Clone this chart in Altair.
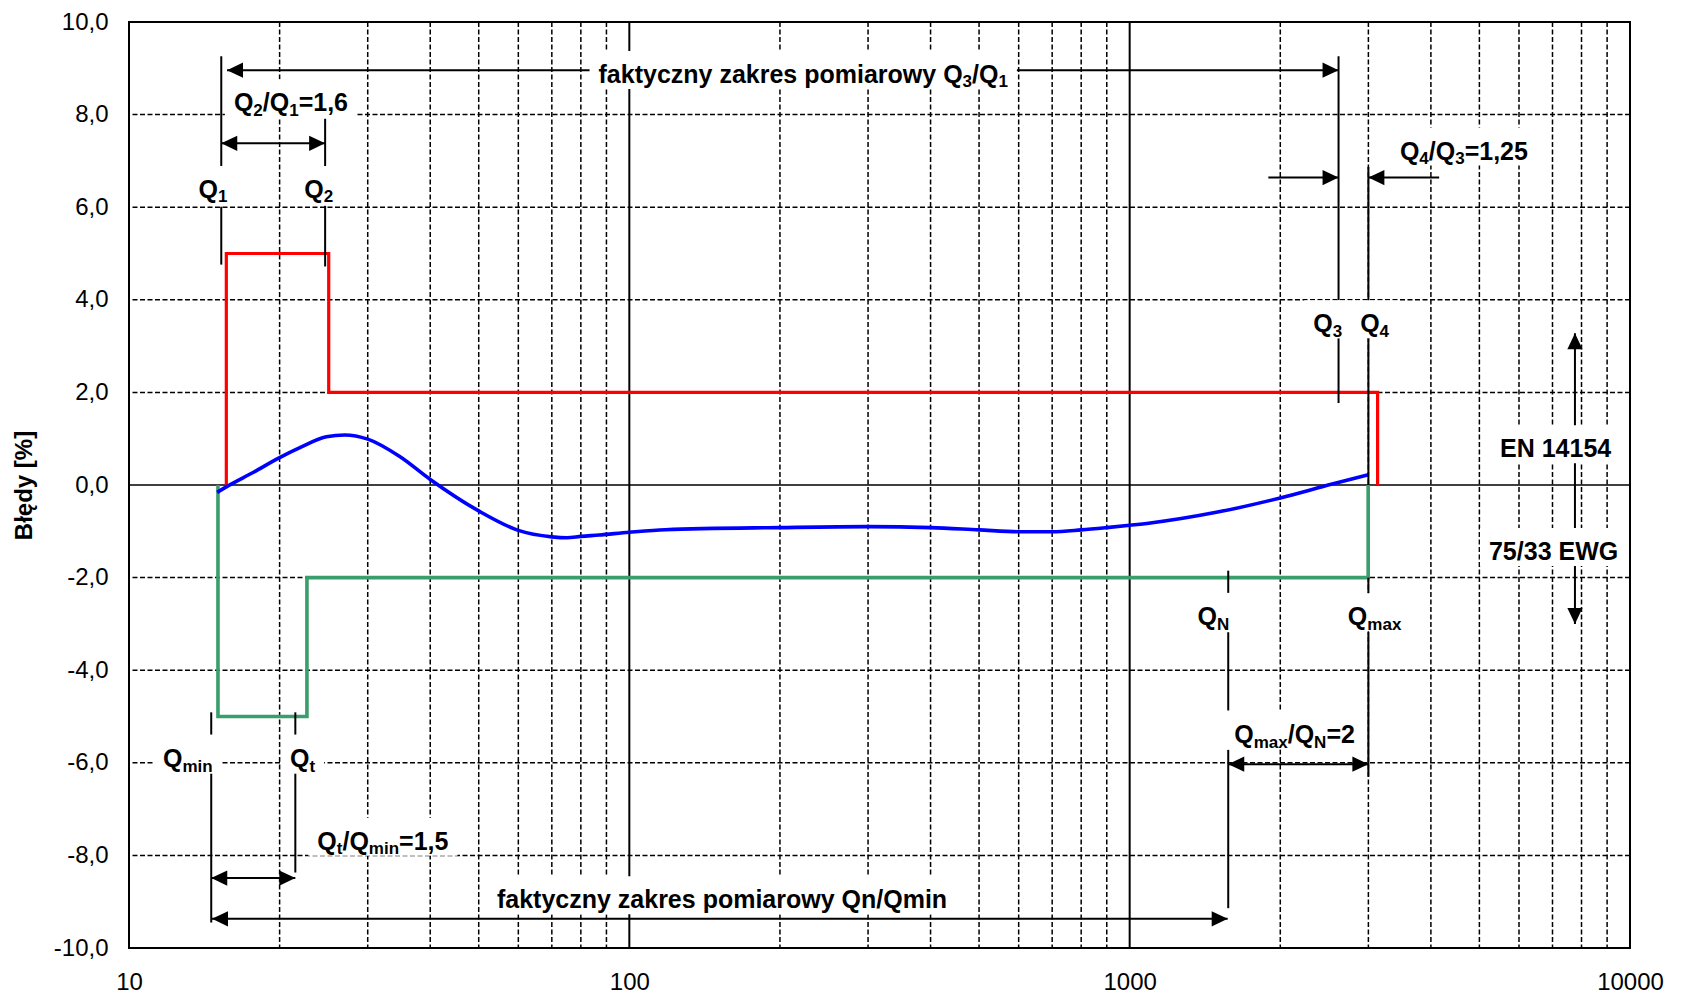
import re
import pandas as pd
import altair as alt

# ---------------- data ----------------
# measured error curve (blue)
curve_q = [15.0, 15.65, 17.7, 20, 21.9, 24.8, 27, 30, 34.7, 40, 50, 60, 70, 75, 80, 87,
           100, 118, 200, 300, 400, 500, 600, 700, 800, 900, 1000, 1100, 1490, 2000, 2540, 3000]
curve_err = [-0.16, -0.04, 0.27, 0.59, 0.80, 1.04, 1.08, 0.99, 0.62, 0.12, -0.56, -0.98, -1.12, -1.14, -1.11, -1.08,
             -1.02, -0.965, -0.92, -0.90, -0.92, -0.97, -1.01, -1.01, -0.97, -0.92, -0.87, -0.82, -0.59, -0.28, 0.02, 0.22]

# EN 14154 limit (red)
en_q = [15.65, 15.65, 25.07, 25.07, 3130, 3130]
en_err = [0, 5, 5, 2, 2, 0]

# 75/33 EWG limit (green)
ewg_q = [15.06, 15.06, 22.68, 22.68, 2997, 2997]
ewg_err = [0, -5, -5, -2, -2, 0]

# grid
grid_minor_q = [20, 30, 40, 50, 60, 70, 80, 90, 200, 300, 400, 500, 600, 700, 800, 900,
                2000, 3000, 4000, 5000, 6000, 7000, 8000, 9000]
grid_major_q = [100, 1000]
grid_err = [-8, -6, -4, -2, 2, 4, 6, 8]
zero_err = [0]
x_tick_values = [10, 100, 1000, 10000]
y_tick_values = [-10, -8, -6, -4, -2, 0, 2, 4, 6, 8, 10]

# marker lines (Q1, Q2, Q3, Q4, QN, Qmax, Qmin, Qt)
marker_q = [15.29, 15.29, 24.66, 24.66, 2615, 2615, 3000, 3000, 1574, 1574, 1574, 3000, 3000,
            14.6, 14.6, 21.5, 21.5]
marker_from = [9.26, 6.01, 7.91, 6.03, 9.26, 3.17, 6.87, 3.19, -1.85, -3.18, -5.72, -2.0, -3.18,
               -4.91, -6.23, -4.91, -6.23]
marker_to = [6.85, 4.76, 6.85, 4.72, 3.99, 1.77, 3.99, 0.0, -2.33, -4.87, -9.14, -2.33, -6.3,
             -5.39, -9.45, -5.39, -8.37]

# arrows
arrow_q1 = [15.7, 15.29, 1893, 4155, 1574, 14.6, 14.65, 7762]
arrow_e1 = [8.96, 7.38, 6.64, 6.64, -6.03, -8.49, -9.37, 3.28]
arrow_q2 = [2615, 24.66, 2615, 3000, 3000, 21.5, 1570, 7762]
arrow_e2 = [8.96, 7.38, 6.64, 6.64, -6.03, -8.49, -9.37, -3.0]
arrow_both = [True, True, False, False, True, True, True, True]

# labels ( _{..} = subscript ), centre q and baseline error
label_text = ["faktyczny zakres pomiarowy Q_{3}/Q_{1}", "Q_{2}/Q_{1}=1,6", "Q_{1}", "Q_{2}",
              "Q_{4}/Q_{3}=1,25", "Q_{3}", "Q_{4}", "EN 14154", "75/33 EWG",
              "Q_{N}", "Q_{max}", "Q_{max}/Q_{N}=2", "Q_{min}", "Q_{t}", "Q_{t}/Q_{min}=1,5",
              "faktyczny zakres pomiarowy Qn/Qmin"]
label_q = [222.6, 21.07, 14.72, 23.95, 4656, 2487, 3087, 7100, 7035, 1470, 3087, 2136, 13.11, 22.23, 32.17, 153.2]
label_err = [8.685, 8.07, 6.20, 6.20, 7.03, 3.30, 3.30, 0.60, -1.62, -3.03, -3.03, -5.58, -6.10, -6.10, -7.88, -9.14]

# ---------------- layout / style ----------------
W, H = 1501, 926
PX_PER_DECADE = W / 3.0
PX_PER_UNIT = H / 20.0
FONT = "Liberation Sans"
MAIN_SIZE, SUB_SIZE, SUB_DROP = 25, 17, 4.5
BOX_PADX, BOX_TOP, BOX_BOTTOM = 9, 32, 6

BOLD_EM = {' ': .278, ',': .278, '/': .278, '=': .584, 'E': .667, 'G': .778, 'N': .722, 'Q': .778,
           'W': .944, 'a': .556, 'c': .556, 'e': .556, 'f': .333, 'i': .278, 'k': .556, 'm': .889,
           'n': .611, 'o': .611, 'p': .611, 'r': .389, 's': .556, 't': .333, 'w': .778, 'x': .556,
           'y': .556, 'z': .5}
for d in "0123456789":
    BOLD_EM[d] = .556

rows_main, rows_sub, boxes = [], [], []
for txt, cq, ce in zip(label_text, label_q, label_err):
    parts = re.split(r"_\{([^}]*)\}", txt)
    segs = [(p, i % 2 == 1) for i, p in enumerate(parts) if p]
    widths = [sum(BOLD_EM[c] for c in p) * (SUB_SIZE if sub else MAIN_SIZE) for p, sub in segs]
    total = sum(widths)
    cursor = -total / 2
    for (p, sub), w in zip(segs, widths):
        row = {"text": p, "q": cq * 10 ** (cursor / PX_PER_DECADE),
               "err": ce - (SUB_DROP / PX_PER_UNIT if sub else 0)}
        (rows_sub if sub else rows_main).append(row)
        cursor += w
    boxes.append({"q": cq * 10 ** ((-total / 2 - BOX_PADX) / PX_PER_DECADE),
                  "q2": cq * 10 ** ((total / 2 + BOX_PADX) / PX_PER_DECADE),
                  "e": ce + BOX_TOP / PX_PER_UNIT, "e2": ce - BOX_BOTTOM / PX_PER_UNIT})

seg_rows = [{"q": q, "q2": q, "e": a, "e2": b} for q, a, b in zip(marker_q, marker_from, marker_to)]
seg_rows += [{"q": a, "q2": b, "e": c, "e2": d} for a, c, b, d in zip(arrow_q1, arrow_e1, arrow_q2, arrow_e2)]

RIGHT = "M0,0L-2,-0.95L-2,0.95Z"
LEFT = "M0,0L2,-0.95L2,0.95Z"
UP = "M0,0L-0.95,2L0.95,2Z"
DOWN = "M0,0L-0.95,-2L0.95,-2Z"
heads = []
for q1, e1, q2, e2, both in zip(arrow_q1, arrow_e1, arrow_q2, arrow_e2, arrow_both):
    if e1 == e2:
        end_shape, start_shape = (RIGHT, LEFT) if q2 > q1 else (LEFT, RIGHT)
    else:
        end_shape, start_shape = (DOWN, UP) if e2 < e1 else (UP, DOWN)
    heads.append({"q": q2, "e": e2, "shape": end_shape})
    if both:
        heads.append({"q": q1, "e": e1, "shape": start_shape})

# ---------------- chart ----------------
xs = alt.Scale(type="log", domain=[10, 10000], nice=False)
ys = alt.Scale(domain=[-10, 10], nice=False, zero=False)

x_axis = alt.Axis(values=x_tick_values, labelExpr="format(datum.value, 'd')", title=None,
                  grid=False, ticks=False, tickSize=0, domain=False, labelPadding=22,
                  labelFlush=False, labelFontSize=24, labelFont=FONT, labelColor="black")
y_axis = alt.Axis(values=y_tick_values,
                  labelExpr="replace(replace(format(datum.value, '.1f'), '.', ','), '−', '-')",
                  title="Błędy [%]", titleFont=FONT, titleFontSize=24, titleFontWeight="bold",
                  titleColor="black", titleAngle=270, titleX=-105, titleY=463,
                  titleAlign="center", titleBaseline="middle",
                  grid=False, ticks=False, tickSize=0, domain=False, labelPadding=21,
                  labelFontSize=24, labelFont=FONT, labelColor="black")


def X(field):
    return alt.X(field, type="quantitative", scale=xs, axis=x_axis)


def Y(field):
    return alt.Y(field, type="quantitative", scale=ys, axis=y_axis)


vgrid = alt.Chart(pd.DataFrame({"q": grid_minor_q})).mark_rule(
    color="black", strokeWidth=1.5, strokeDash=[5, 2.5]).encode(x=X("q"))
hgrid = alt.Chart(pd.DataFrame({"e": grid_err})).mark_rule(
    color="black", strokeWidth=1.5, strokeDash=[5, 2.5]).encode(y=Y("e"))
vmajor = alt.Chart(pd.DataFrame({"q": grid_major_q})).mark_rule(
    color="black", strokeWidth=2).encode(x=X("q"))
zline = alt.Chart(pd.DataFrame({"e": zero_err})).mark_rule(
    color="black", strokeWidth=1.7).encode(y=Y("e"))


def step_line(qs, es, color, width, interp="linear"):
    df = pd.DataFrame({"q": qs, "e": es, "i": list(range(len(qs)))})
    return alt.Chart(df).mark_line(color=color, strokeWidth=width, interpolate=interp).encode(
        x=X("q"), y=Y("e"), order="i:Q")


red = step_line(en_q, en_err, "#ff0000", 3.2)
green = step_line(ewg_q, ewg_err, "#3a9d6c", 3.6)
blue = step_line(curve_q, curve_err, "#0000ff", 3.6, "monotone")

segs = alt.Chart(pd.DataFrame(seg_rows)).mark_rule(color="black", strokeWidth=2).encode(
    x=X("q"), x2="q2:Q", y=Y("e"), y2="e2:Q")

arrowheads = alt.Chart(pd.DataFrame(heads)).mark_point(
    filled=True, color="black", opacity=1, size=256, strokeWidth=0).encode(
    x=X("q"), y=Y("e"), shape=alt.Shape("shape:N", scale=None))

box_layer = alt.Chart(pd.DataFrame(boxes)).mark_rect(color="white").encode(
    x=X("q"), x2="q2:Q", y=Y("e"), y2="e2:Q")

text_main = alt.Chart(pd.DataFrame(rows_main)).mark_text(
    align="left", baseline="alphabetic", font=FONT, fontSize=MAIN_SIZE, fontWeight="bold",
    color="black").encode(x=X("q"), y=Y("err"), text="text:N")
text_sub = alt.Chart(pd.DataFrame(rows_sub)).mark_text(
    align="left", baseline="alphabetic", font=FONT, fontSize=SUB_SIZE, fontWeight="bold",
    color="black").encode(x=X("q"), y=Y("err"), text="text:N")

chart = alt.layer(vgrid, hgrid, vmajor, zline, red, green, blue, segs, arrowheads,
                  box_layer, text_main, text_sub).properties(
    width=W, height=H,
    padding={"left": 121, "top": 14, "right": 40, "bottom": 46},
    autosize=alt.AutoSizeParams(type="none"),
    background="white",
).configure_view(stroke="black", strokeWidth=2)

chart.save("out.html", embed_options={"renderer": "svg", "actions": False})
